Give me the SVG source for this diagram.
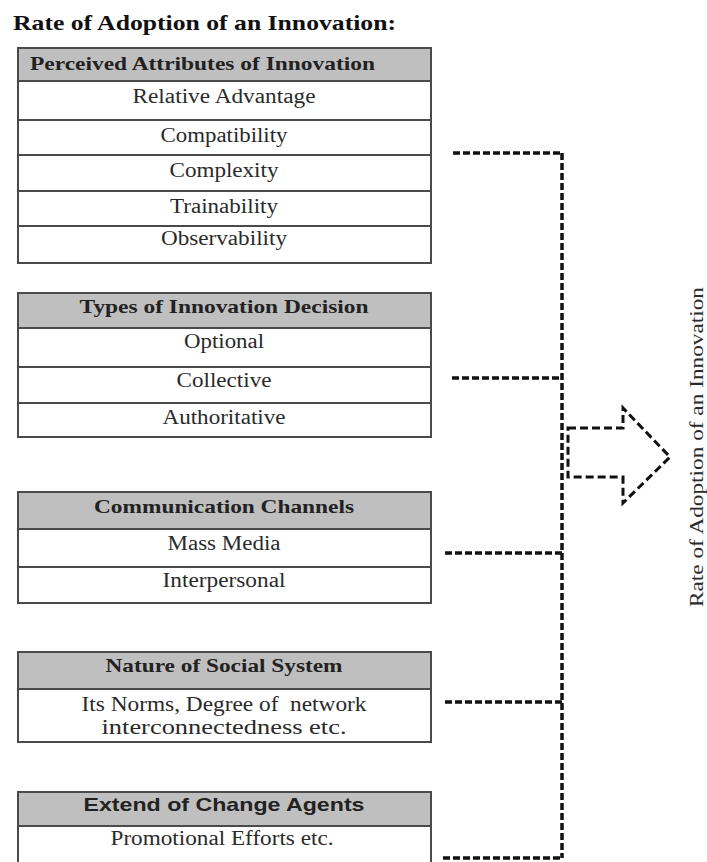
<svg xmlns="http://www.w3.org/2000/svg" width="707" height="862" viewBox="0 0 707 862">
<style>
.box{fill:#ffffff;stroke:#4a4a4a;stroke-width:2}
.hdr{fill:#bfbfbf;stroke:#4a4a4a;stroke-width:2}
.sep{stroke:#4a4a4a;stroke-width:2}
.t{font-family:"Liberation Serif","Times New Roman",serif;font-size:20px;fill:#2a2a2a;text-anchor:middle}
.h{font-family:"Liberation Serif","Times New Roman",serif;font-size:19px;font-weight:bold;fill:#222;text-anchor:middle}
.hs{font-family:"Liberation Sans",Arial,sans-serif;font-size:19px;font-weight:bold;fill:#222;text-anchor:middle}
.conn{fill:none;stroke:#111;stroke-width:3.5;stroke-dasharray:7 3}
.arr{fill:none;stroke:#111;stroke-width:3;stroke-dasharray:8 4}
</style>
<rect width="707" height="862" fill="#ffffff"/>
<text x="13" y="30" font-family="'Liberation Serif','Times New Roman',serif" font-size="22" font-weight="bold" fill="#111" textLength="383" lengthAdjust="spacingAndGlyphs">Rate of Adoption of an Innovation:</text>

<g id="attributes">
<rect class="box" x="18" y="48" width="413" height="215"/>
<rect class="hdr" x="18" y="48" width="413" height="33"/>
<line class="sep" x1="18" y1="120" x2="431" y2="120"/>
<line class="sep" x1="18" y1="155" x2="431" y2="155"/>
<line class="sep" x1="18" y1="191" x2="431" y2="191"/>
<line class="sep" x1="18" y1="226" x2="431" y2="226"/>
<text class="h" x="30" y="70" style="text-anchor:start" textLength="345" lengthAdjust="spacingAndGlyphs">Perceived Attributes of Innovation</text>
<text class="t" x="224" y="103" textLength="183" lengthAdjust="spacingAndGlyphs">Relative Advantage</text>
<text class="t" x="224" y="142" textLength="127" lengthAdjust="spacingAndGlyphs">Compatibility</text>
<text class="t" x="224" y="177" textLength="109" lengthAdjust="spacingAndGlyphs">Complexity</text>
<text class="t" x="224" y="213" textLength="108" lengthAdjust="spacingAndGlyphs">Trainability</text>
<text class="t" x="224" y="245" textLength="126" lengthAdjust="spacingAndGlyphs">Observability</text>
</g>

<g id="decision">
<rect class="box" x="18" y="293" width="413" height="144"/>
<rect class="hdr" x="18" y="293" width="413" height="35"/>
<line class="sep" x1="18" y1="367" x2="431" y2="367"/>
<line class="sep" x1="18" y1="403" x2="431" y2="403"/>
<text class="h" x="224" y="313" textLength="289" lengthAdjust="spacingAndGlyphs">Types of Innovation Decision</text>
<text class="t" x="224" y="348" textLength="80" lengthAdjust="spacingAndGlyphs">Optional</text>
<text class="t" x="224" y="387" textLength="95" lengthAdjust="spacingAndGlyphs">Collective</text>
<text class="t" x="224" y="424" textLength="123" lengthAdjust="spacingAndGlyphs">Authoritative</text>
</g>

<g id="channels">
<rect class="box" x="18" y="492" width="413" height="111"/>
<rect class="hdr" x="18" y="492" width="413" height="37"/>
<line class="sep" x1="18" y1="567" x2="431" y2="567"/>
<text class="h" x="224" y="513" textLength="260" lengthAdjust="spacingAndGlyphs">Communication Channels</text>
<text class="t" x="224" y="550" textLength="113" lengthAdjust="spacingAndGlyphs">Mass Media</text>
<text class="t" x="224" y="587" textLength="123" lengthAdjust="spacingAndGlyphs">Interpersonal</text>
</g>

<g id="social">
<rect class="box" x="18" y="652" width="413" height="90"/>
<rect class="hdr" x="18" y="652" width="413" height="37"/>
<text class="h" x="224" y="672" textLength="237" lengthAdjust="spacingAndGlyphs">Nature of Social System</text>
<text class="t" x="224" y="711" textLength="285" lengthAdjust="spacingAndGlyphs">Its Norms, Degree of&#160; network</text>
<text class="t" x="224" y="734" textLength="245" lengthAdjust="spacingAndGlyphs">interconnectedness etc.</text>
</g>

<g id="agents">
<rect class="box" x="18" y="792" width="413" height="80"/>
<rect class="hdr" x="18" y="792" width="413" height="34"/>
<text class="hs" x="224" y="811" textLength="281" lengthAdjust="spacingAndGlyphs">Extend of Change Agents</text>
<text class="t" x="222" y="845" textLength="223" lengthAdjust="spacingAndGlyphs">Promotional Efforts etc.</text>
</g>

<g id="connectors">
<path class="conn" d="M453 153 H562 M452 378 H562 M445 553 H562 M445 702 H562 M443 858 H562 M562 153 V858"/>
</g>

<g id="result">
<polygon class="arr" points="568,428 623,428 623,408 670,457 623,503 623,477 568,477"/>
<text transform="translate(703,447) rotate(-90)" x="0" y="0" font-family="'Liberation Serif','Times New Roman',serif" font-size="19" fill="#2a2a2a" text-anchor="middle" textLength="320" lengthAdjust="spacingAndGlyphs">Rate of Adoption of an Innovation</text>
</g>
</svg>
